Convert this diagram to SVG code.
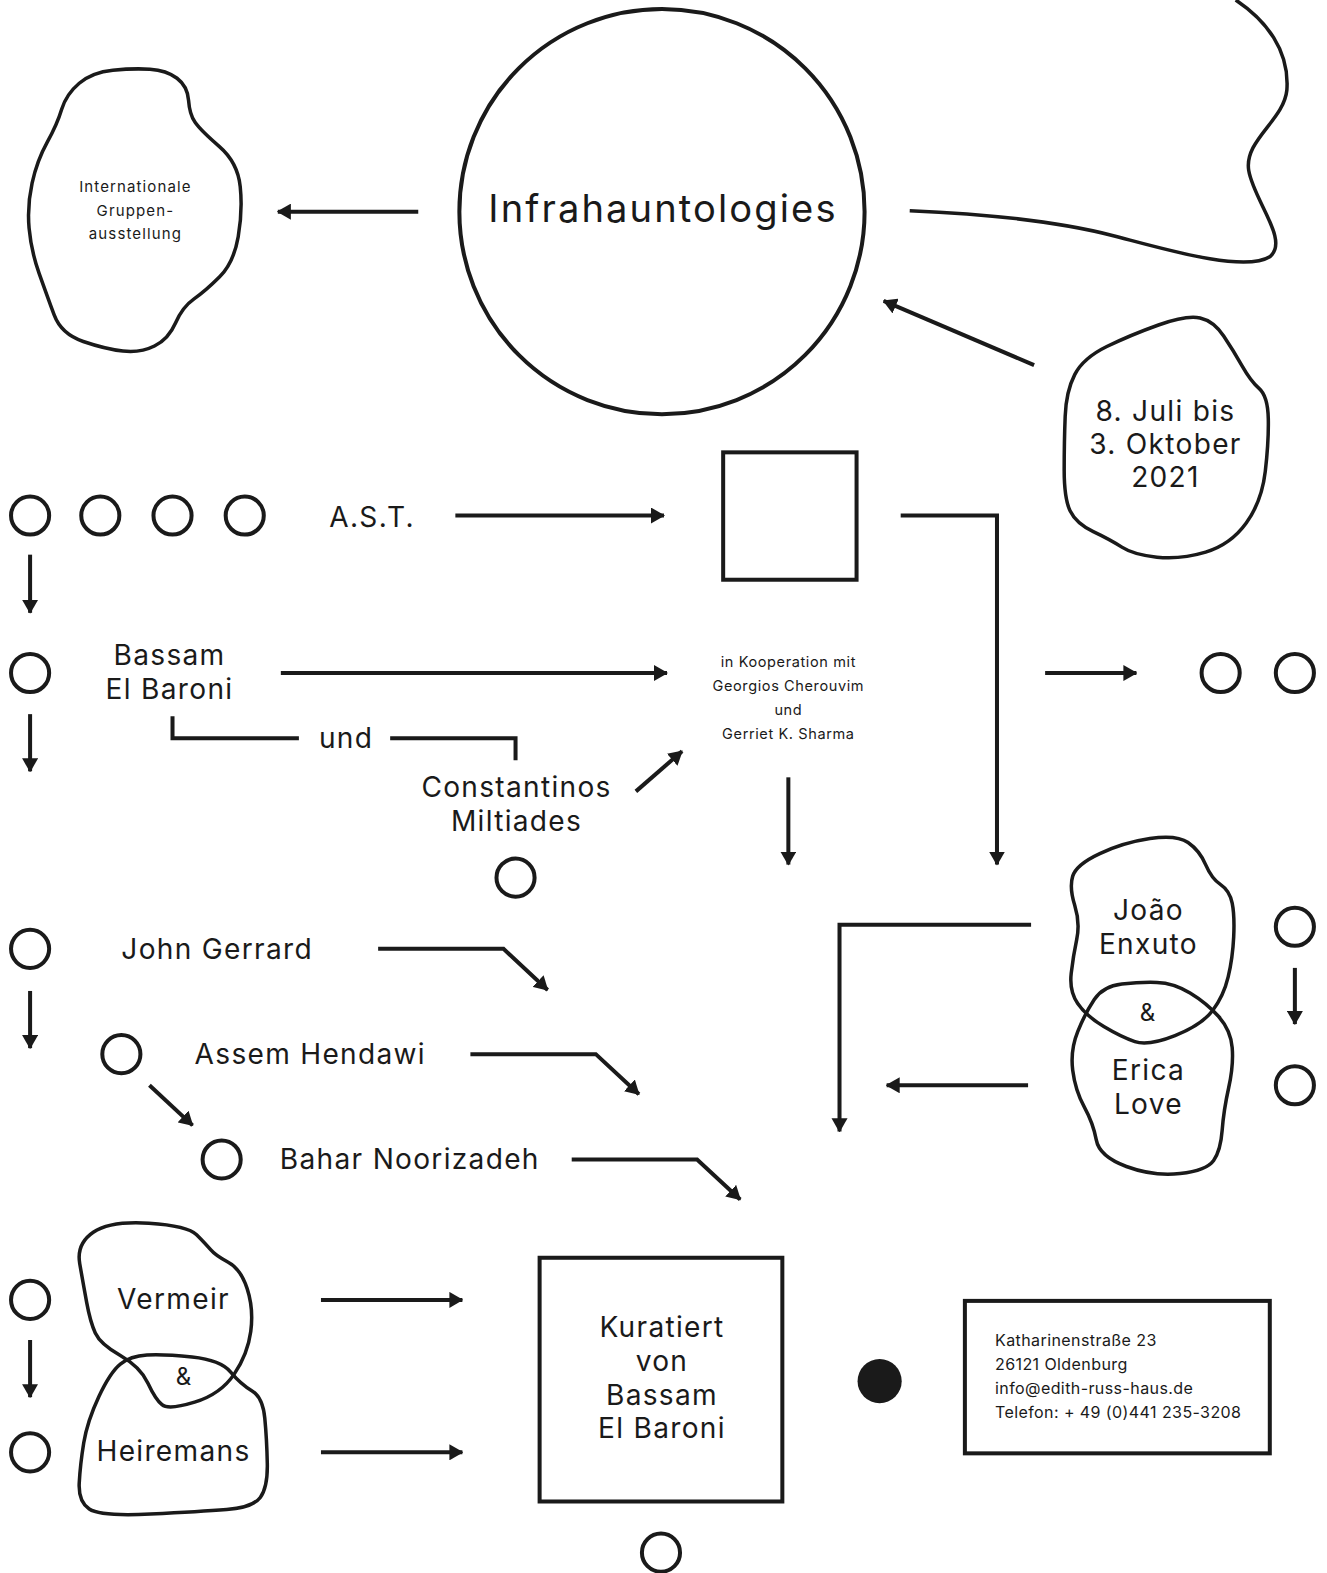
<svg xmlns="http://www.w3.org/2000/svg" width="1327" height="1573" viewBox="0 0 1327 1573">
<defs>
<marker id="ah" viewBox="0 0 14 16" markerWidth="14" markerHeight="16" refX="13" refY="8" orient="auto" markerUnits="userSpaceOnUse">
<path d="M0,0 L14,8 L0,16 Z" fill="#1a1a1a"/>
</marker>
<style>
.t{font-family:Inter,"Liberation Sans",sans-serif;fill:#1a1a1a;text-anchor:middle}
.l{text-anchor:start}
.m{letter-spacing:1.3px}
.g{letter-spacing:2.1px}
.x{letter-spacing:1.1px}
.k{letter-spacing:0.6px}
.d{letter-spacing:0.4px}
.s{fill:none;stroke:#1a1a1a;stroke-width:4}
.b{fill:none;stroke:#1a1a1a;stroke-width:3.5;stroke-linejoin:round}
.c{fill:none;stroke:#1a1a1a;stroke-width:4}
.a{fill:none;stroke:#1a1a1a;stroke-width:4;marker-end:url(#ah)}
</style>
</defs>
<rect width="1327" height="1573" fill="#ffffff"/>
<g transform="scale(1.003)">
<g id="connectors">
<line class="a" x1="417" y1="211" x2="277" y2="211"/>
<line class="a" x1="1031" y1="364" x2="881" y2="300"/>
<line class="a" x1="454" y1="514" x2="662" y2="514"/>
<path class="a" d="M898,514 H994 V862"/>
<line class="a" x1="30" y1="553" x2="30" y2="611"/>
<line class="a" x1="30" y1="712" x2="30" y2="769"/>
<line class="a" x1="280" y1="671" x2="665" y2="671"/>
<path class="s" d="M172,714 V736 H298"/>
<path class="s" d="M389,736 H514 V758"/>
<line class="a" x1="634" y1="789" x2="680" y2="749"/>
<line class="a" x1="786" y1="775" x2="786" y2="862"/>
<line class="a" x1="1042" y1="671" x2="1133" y2="671"/>
<path class="a" d="M377,946 H502 L546,987"/>
<line class="a" x1="30" y1="988" x2="30" y2="1045"/>
<path class="a" d="M469,1051 H594 L637,1091"/>
<line class="a" x1="149" y1="1082" x2="192" y2="1122"/>
<path class="a" d="M570,1156 H695 L738,1196"/>
<path class="a" d="M1028,922 H837 V1128"/>
<line class="a" x1="1025" y1="1082" x2="884" y2="1082"/>
<line class="a" x1="1291" y1="965" x2="1291" y2="1021"/>
<line class="a" x1="30" y1="1336" x2="30" y2="1393"/>
<line class="a" x1="320" y1="1296" x2="461" y2="1296"/>
<line class="a" x1="320" y1="1448" x2="461" y2="1448"/>
<path class="b" d="M907,210 C1000,214 1060,222 1110,235 C1160,248 1240,272 1266,256 C1286,240 1250,200 1245,170 C1240,140 1280,120 1283,90 C1286,50 1262,20 1232,0"/>
</g>

<g id="n-gruppen">
<path class="b" d="M149.5,69 Q133,68 112.5,70 Q92,72 79,83 Q66,94 61.5,109 Q57,124 47,142 Q37,160 32,182.5 Q27,205 29,227.5 Q31,250 39,272.5 Q47,295 54,314 Q61,333 83,340.5 Q105,348 122.5,350 Q140,352 154,345 Q168,338 175,322 Q182,306 193.5,298 Q205,290 219,276 Q233,262 237.5,236 Q242,210 239.5,186 Q237,162 218.5,146 Q200,130 194.5,122 Q189,114 188,100 Q187,86 176.5,78 Q166,70 149.5,69 Z"/>
<text class="t x" x="135" y="191" font-size="15">Internationale</text>
<text class="t x" x="135" y="215" font-size="15">Gruppen-</text>
<text class="t x" x="135" y="238" font-size="15">ausstellung</text>
</g>

<g id="n-title">
<circle class="c" cx="660" cy="211" r="202"/>
<text class="t g" x="661" y="221" font-size="38">Infrahauntologies</text>
</g>

<g id="n-date">
<path class="b" d="M1196.5,317 Q1183,314 1155,324 Q1127,334 1103.5,345.5 Q1080,357 1071.5,373.5 Q1063,390 1062,415 Q1061,440 1061,468.5 Q1061,497 1067,509.5 Q1073,522 1090,530 Q1107,538 1118.5,545.5 Q1130,553 1153.5,555.5 Q1177,558 1202,550.5 Q1227,543 1242.5,521.5 Q1258,500 1261.5,470 Q1265,440 1264.5,417.5 Q1264,395 1255.5,387.5 Q1247,380 1238.5,365 Q1230,350 1220,335 Q1210,320 1196.5,317 Z"/>
<text class="t m" x="1162" y="420" font-size="28">8. Juli bis</text>
<text class="t m" x="1162" y="453" font-size="28">3. Oktober</text>
<text class="t m" x="1162" y="486" font-size="28">2021</text>
</g>

<g id="n-row1">
<circle class="c" cx="30" cy="514" r="19"/>
<circle class="c" cx="100" cy="514" r="19"/>
<circle class="c" cx="172" cy="514" r="19"/>
<circle class="c" cx="244" cy="514" r="19"/>
</g>
<g id="n-ast"><text class="t m" x="371" y="525" font-size="28">A.S.T.</text></g>
<g id="n-square"><rect class="c" x="721" y="451" width="133" height="127"/></g>

<g id="n-c2"><circle class="c" cx="30" cy="671" r="19"/></g>
<g id="n-bassam">
<text class="t m" x="169" y="663" font-size="28">Bassam</text>
<text class="t m" x="169" y="697" font-size="28">El Baroni</text>
</g>
<g id="n-und"><text class="t m" x="345" y="746" font-size="28">und</text></g>
<g id="n-constantinos">
<text class="t m" x="515" y="795" font-size="28">Constantinos</text>
<text class="t m" x="515" y="829" font-size="28">Miltiades</text>
</g>
<g id="n-c3"><circle class="c" cx="514" cy="875" r="19"/></g>
<g id="n-koop">
<text class="t k" x="786" y="665" font-size="14.5">in Kooperation mit</text>
<text class="t k" x="786" y="689" font-size="14.5">Georgios Cherouvim</text>
<text class="t k" x="786" y="713" font-size="14.5">und</text>
<text class="t k" x="786" y="737" font-size="14.5">Gerriet K. Sharma</text>
</g>
<g id="n-c4">
<circle class="c" cx="1217" cy="671" r="19"/>
<circle class="c" cx="1291" cy="671" r="19"/>
</g>

<g id="n-john">
<circle class="c" cx="30" cy="946" r="19"/>
<text class="t l m" x="121" y="956" font-size="28">John Gerrard</text>
</g>
<g id="n-assem">
<circle class="c" cx="121" cy="1051" r="19"/>
<text class="t l m" x="194" y="1061" font-size="28">Assem Hendawi</text>
</g>
<g id="n-bahar">
<circle class="c" cx="221" cy="1156" r="19"/>
<text class="t l m" x="279" y="1166" font-size="28">Bahar Noorizadeh</text>
</g>

<g id="n-joao">
<path class="b" d="M1096.5,851 Q1120,840 1146.5,836 Q1173,832 1184.5,840 Q1196,848 1202,862 Q1208,876 1217,882 Q1226,888 1228.5,900.5 Q1231,913 1230,934 Q1229,955 1224.5,974 Q1220,993 1209,1007.5 Q1198,1022 1171.5,1032.5 Q1145,1043 1131.5,1038.5 Q1118,1034 1100.5,1023.5 Q1083,1013 1074.5,1000.5 Q1066,988 1068,970.5 Q1070,953 1073.5,936.5 Q1077,920 1071.5,902.5 Q1066,885 1069.5,873.5 Q1073,862 1096.5,851 Z"/>
<text class="t m" x="1145" y="917" font-size="28">João</text>
<text class="t m" x="1145" y="951" font-size="28">Enxuto</text>
</g>
<g id="n-erica">
<path class="b" d="M1153.5,979.5 Q1137,979 1118.5,981 Q1100,983 1091,996.5 Q1082,1010 1074.5,1028.5 Q1067,1047 1069.5,1067 Q1072,1087 1081,1103.5 Q1090,1120 1093,1136.5 Q1096,1153 1123,1163 Q1150,1173 1176.5,1170 Q1203,1167 1210,1157 Q1217,1147 1218.5,1127 Q1220,1107 1225,1084.5 Q1230,1062 1228.5,1044.5 Q1227,1027 1215,1013.5 Q1203,1000 1186.5,990 Q1170,980 1153.5,979.5 Z"/>
<text class="t" x="1144" y="1018" font-size="24">&amp;</text>
<text class="t m" x="1145" y="1077" font-size="28">Erica</text>
<text class="t m" x="1145" y="1111" font-size="28">Love</text>
</g>
<g id="n-c5">
<circle class="c" cx="1291" cy="924" r="19"/>
<circle class="c" cx="1291" cy="1082" r="19"/>
</g>

<g id="n-c6">
<circle class="c" cx="30" cy="1296" r="19"/>
<circle class="c" cx="30" cy="1448" r="19"/>
</g>
<g id="n-vermeir">
<path class="b" d="M93,1228.5 Q110,1217 148.5,1219.5 Q187,1222 196,1231 Q205,1240 210,1246 Q215,1252 227.5,1258.5 Q240,1265 246.5,1285 Q253,1305 250,1327.5 Q247,1350 233.5,1370 Q220,1390 194,1398 Q168,1406 161.5,1400.5 Q155,1395 147.5,1379 Q140,1363 120,1351.5 Q100,1340 95,1329 Q90,1318 86.5,1299 Q83,1280 79.5,1260 Q76,1240 93,1228.5 Z"/>
<text class="t m" x="173" y="1305" font-size="28">Vermeir</text>
</g>
<g id="n-heiremans">
<path class="b" d="M146.5,1351 Q163,1350 191.5,1353 Q220,1356 230,1368 Q240,1380 251,1386.5 Q262,1393 264,1414 Q266,1435 266.5,1459 Q267,1483 259.5,1493 Q252,1503 226,1505 Q200,1507 150,1509.5 Q100,1512 89,1504.5 Q78,1497 79,1478.5 Q80,1460 83.5,1438.5 Q87,1417 98.5,1392.5 Q110,1368 120,1360 Q130,1352 146.5,1351 Z"/>
<text class="t" x="183" y="1381" font-size="24">&amp;</text>
<text class="t m" x="173" y="1457" font-size="28">Heiremans</text>
</g>

<g id="n-kuratiert">
<rect class="c" x="538" y="1254" width="242" height="243"/>
<text class="t m" x="660" y="1333" font-size="28">Kuratiert</text>
<text class="t m" x="660" y="1367" font-size="28">von</text>
<text class="t m" x="660" y="1401" font-size="28">Bassam</text>
<text class="t m" x="660" y="1434" font-size="28">El Baroni</text>
</g>
<g id="n-c7"><circle class="c" cx="659" cy="1548" r="19"/></g>
<g id="n-dot"><circle cx="877" cy="1377" r="22" fill="#1a1a1a"/></g>
<g id="n-address">
<rect class="c" x="962" y="1297" width="304" height="152"/>
<text class="t l d" x="992" y="1342" font-size="16">Katharinenstraße 23</text>
<text class="t l d" x="992" y="1366" font-size="16">26121 Oldenburg</text>
<text class="t l d" x="992" y="1390" font-size="16">info@edith-russ-haus.de</text>
<text class="t l d" x="992" y="1414" font-size="16">Telefon: + 49 (0)441 235-3208</text>
</g>
</g>
</svg>
